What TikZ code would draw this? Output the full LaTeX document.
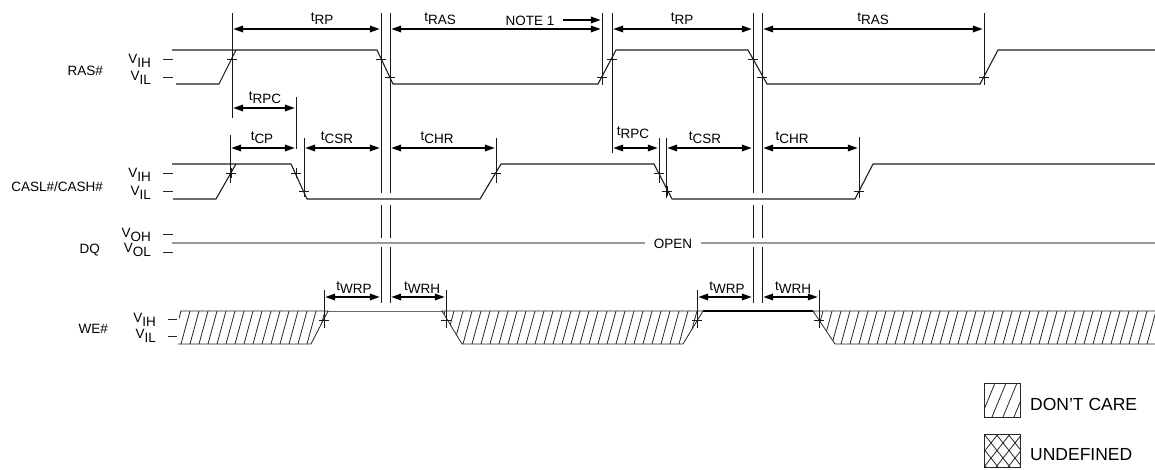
\documentclass[tikz,border=0pt]{standalone}
\usepackage{fontspec}
\setmainfont{Liberation Sans}
\usetikzlibrary{arrows.meta}
\newcommand\tsb[1]{t\raisebox{-3pt}{#1}}
\newcommand\vsb[1]{V\raisebox{-4.5pt}{#1}}
\begin{document}
\begin{tikzpicture}[x=1pt,y=-1pt,
  sig/.style={line width=1.1pt, draw=black!88, line join=miter},
  vl/.style={line width=1pt, draw=black!90},
  hatch/.style={line width=0.8pt, draw=black!85},
  dimarrow/.style={line width=1.8pt, {Triangle[length=10pt,width=6.5pt]}-{Triangle[length=10pt,width=6.5pt]}, shorten <=1.2pt, shorten >=1.2pt},
  notearrow/.style={line width=1.8pt, -{Triangle[length=10pt,width=6.5pt]}, shorten >=1.2pt},
  lbl/.style={inner sep=0pt, font=\fontsize{13.5}{15}\selectfont},
  leg/.style={inner sep=0pt, font=\fontsize{17.5}{19}\selectfont, anchor=base west},
  tick/.style={line width=1pt, draw=black!85}
]
\useasboundingbox (0,0) rectangle (1155,469);

% ---------- signal names and levels ----------
\node[lbl, anchor=base east] (nras) at (103,75) {RAS\#};
\node[lbl, anchor=base east] (ncas) at (103,191) {CASL\#/CASH\#};
\node[lbl, anchor=base east] (ndq) at (100,253) {DQ};
\node[lbl, anchor=base east] (nwe) at (108,333) {WE\#};

\node[lbl, anchor=base east] (rvih) at (151,63) {\vsb{IH}};
\node[lbl, anchor=base east] (rvil) at (151,80) {\vsb{IL}};
\node[lbl, anchor=base east] (cvih) at (151,177) {\vsb{IH}};
\node[lbl, anchor=base east] (cvil) at (151,195) {\vsb{IL}};
\node[lbl, anchor=base east] (dvoh) at (151,237) {\vsb{OH}};
\node[lbl, anchor=base east] (dvol) at (151,252) {\vsb{OL}};
\node[lbl, anchor=base east] (wvih) at (156,322) {\vsb{IH}};
\node[lbl, anchor=base east] (wvil) at (156,338) {\vsb{IL}};

\foreach \y in {59,77,173,191,234,252} \draw[tick] (163,\y) -- (173,\y);
\foreach \y in {319,336} \draw[tick] (168,\y) -- (177,\y);

% ---------- RAS# ----------
\draw[sig] (172,50) -- (377,50) -- (393,84) -- (598,84) -- (616,50) -- (748,50) -- (767,84) -- (980,84) -- (998,50) -- (1155,50);
\draw[sig] (176,84) -- (219,84) -- (236,50);

% ---------- CASL#/CASH# ----------
\draw[sig] (172,164) -- (291,164) -- (307,199) -- (480,199) -- (501,164) -- (654,164) -- (672,199) -- (855,199) -- (873,164) -- (1155,164);
\draw[sig] (173,199) -- (216,199) -- (236,164);

% ---------- DQ ----------
\node[lbl, anchor=base] (open) at (673,248) {OPEN};
\draw[line width=1.3pt, draw=black!40] (172,243) -- (645,243);
\draw[line width=1.3pt, draw=black!40] (701,243) -- (1155,243);

% ---------- WE# ----------
\begin{scope}
  \clip (179,311) -- (328,311) -- (311,344) -- (179,344) -- cycle;
  \foreach \x in {172,181,...,340} \draw[hatch] (\x,344) -- (\x+9,311);
\end{scope}
\begin{scope}
  \clip (442,311) -- (703,311) -- (683,344) -- (462,344) -- cycle;
  \foreach \x in {436,445,...,710} \draw[hatch] (\x,344) -- (\x+9,311);
\end{scope}
\begin{scope}
  \clip (813,311) -- (1156,311) -- (1156,344) -- (835,344) -- cycle;
  \foreach \x in {805,814,...,1160} \draw[hatch] (\x,344) -- (\x+9,311);
\end{scope}
\draw[hatch] (180,311) -- (328,311) -- (311,344) -- (178,344);
\draw[line width=0.6pt, draw=black!60] (328,311) -- (442,311);
\draw[hatch] (442,311) -- (462,344) -- (683,344) -- (703,311) -- cycle;
\draw[line width=2pt] (703,311) -- (813,311);
\draw[hatch] (1155,311) -- (813,311) -- (835,344) -- (1155,344);

% ---------- crossing marks ----------
\foreach \x/\y in {232/59,381/59,390/77,602/77,612/59,753/59,762/77,984/77,
                   231/173,296/173,304/191,496/173,659/173,667/191,859/191,
                   324/320,446/320,697/320,819/320}
  \draw[vl] (\x-5,\y) -- (\x+5,\y) (\x,\y-5) -- (\x,\y+5);

% ---------- vertical reference lines ----------
\foreach \x in {381,390,753,762}
  \draw[vl] (\x,13) -- (\x,193) (\x,205) -- (\x,238) (\x,247) -- (\x,303);
\draw[vl] (232,13) -- (232,118);
\draw[vl] (602,13) -- (602,85);
\draw[vl] (612,13) -- (612,153);
\draw[vl] (984,13) -- (984,85);
\draw[vl] (296,97) -- (296,149);
\draw[vl] (230,135) -- (230,183);
\draw[vl] (304,138) -- (304,197);
\draw[vl] (496,138) -- (496,183);
\draw[vl] (659,138) -- (659,183);
\draw[vl] (666,138) -- (666,198);
\draw[vl] (859,137) -- (859,198);
\foreach \x in {324,446,697,819} \draw[vl] (\x,290) -- (\x,328);

% ---------- timing arrows and labels ----------
\draw[dimarrow] (232,29) -- (381,29);
\draw[dimarrow] (390,29) -- (602,29);
\draw[dimarrow] (612,29) -- (753,29);
\draw[dimarrow] (762,29) -- (984,29);
\node[lbl, anchor=base] (trp1) at (322,21) {\tsb{RP}};
\node[lbl, anchor=base] (tras1) at (440,21) {\tsb{RAS}};
\node[lbl, anchor=base] (note) at (530,25) {NOTE 1};
\draw[notearrow] (563,20) -- (602,20);
\node[lbl, anchor=base] (trp2) at (682,21) {\tsb{RP}};
\node[lbl, anchor=base] (tras2) at (873,21) {\tsb{RAS}};

\draw[dimarrow] (232,108) -- (296,108);
\node[lbl, anchor=base] (trpc1) at (265,100) {\tsb{RPC}};

\draw[dimarrow] (230,148) -- (296,148);
\draw[dimarrow] (304,148) -- (381,148);
\draw[dimarrow] (390,148) -- (496,148);
\draw[dimarrow] (612,148) -- (659,148);
\draw[dimarrow] (666,148) -- (753,148);
\draw[dimarrow] (762,148) -- (859,148);
\node[lbl, anchor=base] (tcp) at (262,140) {\tsb{CP}};
\node[lbl, anchor=base] (tcsr1) at (337,140) {\tsb{CSR}};
\node[lbl, anchor=base] (tchr1) at (437,140) {\tsb{CHR}};
\node[lbl, anchor=base] (trpc2) at (633,135) {\tsb{RPC}};
\node[lbl, anchor=base] (tcsr2) at (705,140) {\tsb{CSR}};
\node[lbl, anchor=base] (tchr2) at (792,140) {\tsb{CHR}};

\draw[dimarrow] (324,297) -- (381,297);
\draw[dimarrow] (390,297) -- (446,297);
\draw[dimarrow] (697,297) -- (753,297);
\draw[dimarrow] (762,297) -- (819,297);
\node[lbl, anchor=base] (twrp1) at (354,290) {\tsb{WRP}};
\node[lbl, anchor=base] (twrh1) at (422,290) {\tsb{WRH}};
\node[lbl, anchor=base] (twrp2) at (727,290) {\tsb{WRP}};
\node[lbl, anchor=base] (twrh2) at (793,290) {\tsb{WRH}};

% ---------- legend ----------
\begin{scope}
  \clip (984,383) rectangle (1020,417);
  \foreach \x in {970,981,...,1030} \draw[hatch] (\x,417) -- (\x+14,383);
\end{scope}
\draw[hatch] (984,383) rectangle (1020,417);
\node[leg] (ldc) at (1030,410) {DON’T CARE};

\begin{scope}
  \clip (984,434) rectangle (1020,467);
  \foreach \x in {960,972,...,1040} {
    \draw[hatch] (\x,467) -- (\x+26,434);
    \draw[hatch] (\x,434) -- (\x+26,467);
  }
\end{scope}
\draw[hatch] (984,434) rectangle (1020,467);
\node[leg] (lud) at (1030,460) {UNDEFINED};
\end{tikzpicture}
\end{document}
